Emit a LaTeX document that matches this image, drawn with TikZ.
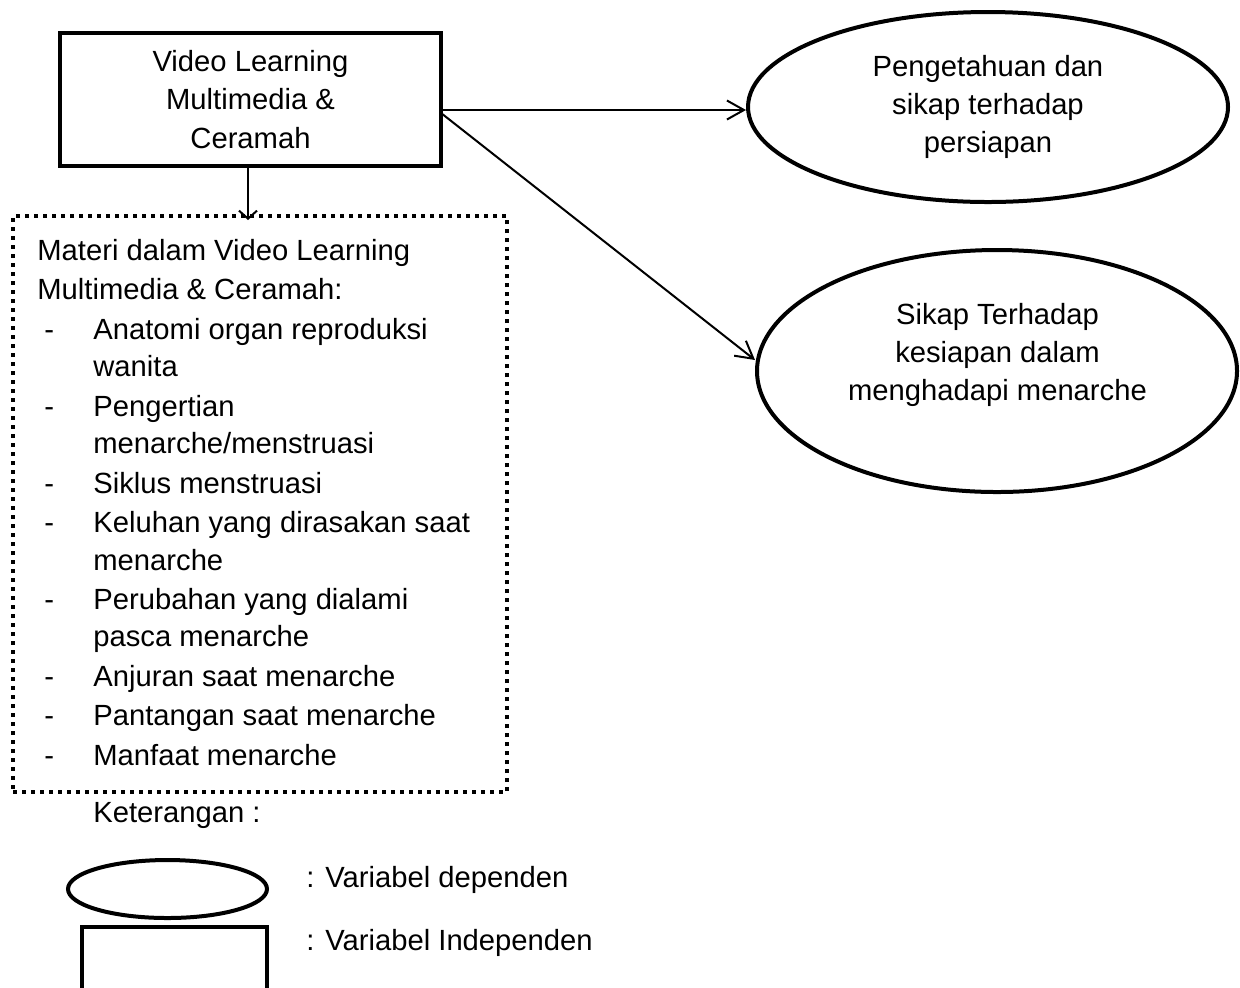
\documentclass[tikz,border=0pt]{standalone}
\usepackage{fontspec}
\setmainfont{Liberation Sans}
\usetikzlibrary{shapes.geometric,arrows.meta}
\newcommand{\lstitem}[1]{\makebox[28pt][l]{\hspace{3.5pt}-}#1}
\newcommand{\lstcont}[1]{\hspace*{28pt}#1}
\tikzset{
  txt/.style={font=\fontsize{14.6pt}{19.15pt}\selectfont, inner sep=0pt},
  lsttxt/.style={font=\fontsize{14.6pt}{18.75pt}\selectfont, inner sep=0pt, align=left},
  boxstyle/.style={draw, line width=2pt, rectangle, inner sep=0pt},
  ellstyle/.style={draw, line width=2pt, ellipse, inner sep=0pt},
  dotbox/.style={draw, line width=2pt, dash pattern=on 2pt off 2.5pt, rectangle, inner sep=0pt},
  arr/.style={-{Straight Barb[length=8.5pt,width=9.5pt]}, line width=1pt},
  smallarr/.style={-{Straight Barb[length=4pt,width=9pt]}, line width=1pt}
}
\begin{document}
\begin{tikzpicture}[x=0.5pt,y=-0.5pt]
\useasboundingbox (0,0) rectangle (1240,987);
\clip (0,0) rectangle (1240,987);

% main independent box
\node[boxstyle, txt, align=center, minimum width=190.5pt, minimum height=66.5pt] (vid) at (250.5,99.5)
  {Video Learning\\Multimedia \&\\Ceramah};

% dependent ellipses
\node[ellstyle, txt, align=center, minimum width=240pt, minimum height=95pt] (e1) at (988,107)
  {Pengetahuan dan\\sikap terhadap\\persiapan};
\node[ellstyle, minimum width=240pt, minimum height=121pt] (e2) at (997,371) {};
\node[txt, align=center] (e2txt) at (997.5,355)
  {Sikap Terhadap\\kesiapan dalam\\menghadapi menarche};

% dotted material box
\node[dotbox, minimum width=247pt, minimum height=288pt] (mat) at (260,504) {};
\node[lsttxt, anchor=north west] (matlist) at (37,239) {%
Materi dalam Video Learning\\[0.95pt]
Multimedia \& Ceramah:\\[0.95pt]
\lstitem{Anatomi organ reproduksi}\\
\lstcont{wanita}\\[0.95pt]
\lstitem{Pengertian}\\
\lstcont{menarche/menstruasi}\\[0.95pt]
\lstitem{Siklus menstruasi}\\[0.95pt]
\lstitem{Keluhan yang dirasakan saat}\\
\lstcont{menarche}\\[0.95pt]
\lstitem{Perubahan yang dialami}\\
\lstcont{pasca menarche}\\[0.95pt]
\lstitem{Anjuran saat menarche}\\[0.95pt]
\lstitem{Pantangan saat menarche}\\[0.95pt]
\lstitem{Manfaat menarche}};

% connectors
\coordinate (a1s) at (441,110);
\coordinate (a2s) at (441,113);
\coordinate (a2e) at (755,360);
\coordinate (a3s) at (248,166);
\coordinate (a3e) at (248,220);
\draw[arr] (a1s) -- (a1s -| e1.west);
\draw[arr] (a2s) -- (a2e);
\draw[smallarr] (a3s) -- (a3e);

% legend
\node[txt, anchor=base west] (ket) at (93,822) {Keterangan :};
\node[ellstyle, minimum width=99.5pt, minimum height=29pt] (legell) at (167.5,889) {};
\node[txt, anchor=base west] (legdep) at (306,887) {: Variabel dependen};
\node[boxstyle, minimum width=92.5pt, minimum height=45pt] (legbox) at (174.5,972) {};
\node[txt, anchor=base west] (legind) at (306,950) {: Variabel Independen};
\end{tikzpicture}
\end{document}
